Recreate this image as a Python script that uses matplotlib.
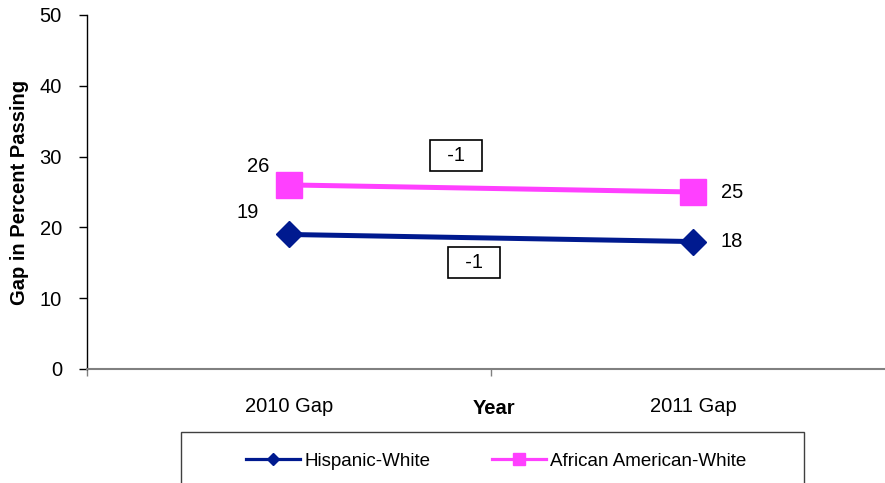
import matplotlib
matplotlib.use("Agg")
import matplotlib.pyplot as plt
from matplotlib.lines import Line2D
from matplotlib.patches import Rectangle

plt.rcParams['font.family'] = ['Liberation Sans', 'DejaVu Sans']

years = ['2010 Gap', '2011 Gap']
hispanic_white = [19, 18]
african_american_white = [26, 25]
series_names = ['Hispanic-White', 'African American-White']

blue = '#001a8f'
pink = '#ff40ff'
fs = 14.5

fig = plt.figure(figsize=(8.85, 4.83), dpi=100)
ax = fig.add_axes([87 / 885, 114 / 483, 808 / 885, 354 / 483])

x = list(range(len(years)))
ax.plot(x, hispanic_white, color=blue, lw=3.6, marker='D', ms=13, mec=blue, mfc=blue)
ax.plot(x, african_american_white, color=pink, lw=3.6, marker='s', ms=18.5, mec=pink, mfc=pink)

ax.set_xlim(-0.5, 1.5)
ax.set_ylim(0, 50)
ax.set_yticks(range(0, 51, 10))
ax.set_xticks([-0.5, 0.5, 1.5])
ax.set_xticklabels([])
ax.set_xticks(x, minor=True)
ax.set_xticklabels(years, minor=True)
ax.tick_params(axis='x', which='minor', length=0, pad=20, labelsize=fs)
ax.tick_params(axis='x', which='major', length=5, color='#808080', width=1)
ax.tick_params(axis='y', length=6, width=1, labelsize=fs, pad=12)

for s in ['top', 'right']:
    ax.spines[s].set_visible(False)
ax.spines['bottom'].set_color('#808080')
ax.spines['bottom'].set_linewidth(1.5)
ax.spines['left'].set_linewidth(1)

ax.set_ylabel('Gap in Percent Passing', fontsize=fs, fontweight='bold', labelpad=8)
fig.text(494 / 885, 1 - 408 / 483, 'Year', fontsize=fs, fontweight='bold', ha='center', va='center')

# value labels: first point up-left, second point to the right
lab_offsets = {
    'hisp': [(-29.5, 16), (28, 0)],
    'afam': [(-22, 13), (28, 0)],
}
for vals, key in [(hispanic_white, 'hisp'), (african_american_white, 'afam')]:
    for xi, v, off in zip(x, vals, lab_offsets[key]):
        ax.annotate(str(v), (xi, v), xytext=off, textcoords='offset points',
                    fontsize=fs, ha='center', va='center')

# change boxes
box = dict(boxstyle='square,pad=0.3', fc='white', ec='black', lw=1.2)
ax.text(0.413, 30.1, '  %d  ' % (african_american_white[1] - african_american_white[0]),
        fontsize=fs, ha='center', va='center', bbox=box)
ax.text(0.458, 15.1, '  %d  ' % (hispanic_white[1] - hispanic_white[0]),
        fontsize=fs, ha='center', va='center', bbox=box)

# legend frame runs off the bottom of the figure
fig.patches.append(Rectangle((181 / 885, -0.05), 623 / 885, 0.05 + 51 / 483,
                             transform=fig.transFigure, fill=False,
                             ec='#404040', lw=1))

handles = [Line2D([], [], color=blue, lw=2.3, marker='D', ms=6, mec=blue),
           Line2D([], [], color=pink, lw=2.3, marker='s', ms=9, mec=pink)]
fig.legend(handles, series_names, loc='center left',
           bbox_to_anchor=(246 / 885, 1 - 461 / 483), ncol=2,
           fontsize=13.5, frameon=False, handlelength=2.9,
           handletextpad=0.2, borderpad=0, borderaxespad=0,
           columnspacing=3.3)

fig.savefig('out.png', dpi=100)
